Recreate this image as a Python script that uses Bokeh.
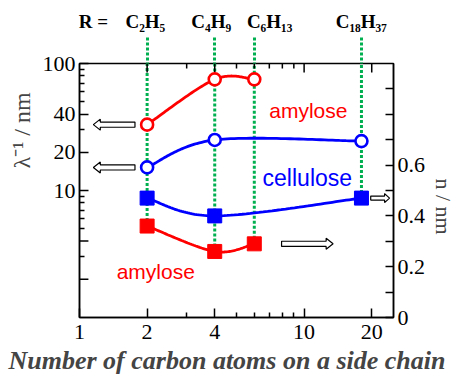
import numpy as np
from bokeh.plotting import figure
from bokeh.models import (Range1d, LinearScale, LinearAxis, LogAxis, FixedTicker,
                          Label, Arrow, NumeralTickFormatter, Title)
from bokeh.embed import file_html
from bokeh.resources import INLINE

# ---------------- data ----------------
side_chains = ["C₂H₅", "C₄H₉", "C₆H₁₃", "C₁₈H₃₇"]
carbon_number = [2, 4, 6, 18]

amylose_x = [2, 4, 6]
amylose_inv_lambda = [33.0, 75.0, 75.0]     # lambda^-1 / nm  (left, log axis)
amylose_n = [0.36, 0.26, 0.29]              # n / nm (right axis)

cellulose_x = [2, 4, 18]
cellulose_inv_lambda = [15.2, 25.0, 24.5]
cellulose_n = [0.47, 0.40, 0.47]

x_major = [1, 2, 4, 10, 20]
x_minor = [3, 5, 6, 7, 8, 9]
left_major = [10, 20, 40, 100]
left_long = [2, 4]
left_minor = [3, 5, 6, 7, 8, 9, 30, 50, 60, 70, 80, 90]
right_major = [0, 0.2, 0.4, 0.6]
right_minor = [0.1, 0.3, 0.5, 0.7, 0.8, 0.9]

X_RANGE = (1, 25)
LEFT_RANGE = (1, 100)
RIGHT_RANGE = (0, 1.0)

# ---------------- layout (canvas px) ----------------
W, H = 459, 381
FL, FR, FT, FB = 79, 396, 63, 317

LX = np.log10(X_RANGE[1] / X_RANGE[0])
LY = np.log10(LEFT_RANGE[1] / LEFT_RANGE[0])
PX_X = (FR - FL) / LX
PX_L = (FB - FT) / LY
PX_R = (FB - FT) / (RIGHT_RANGE[1] - RIGHT_RANGE[0])


def dx(cx):
    return X_RANGE[0] * 10 ** ((cx - FL) / PX_X)


def dyl(cy):
    return LEFT_RANGE[0] * 10 ** ((FB - cy) / PX_L)


def dyr(cy):
    return RIGHT_RANGE[0] + (FB - cy) / PX_R


def cx_of(x):
    return FL + np.log10(x / X_RANGE[0]) * PX_X


def cyl_of(v):
    return FB - np.log10(v / LEFT_RANGE[0]) * PX_L


def cyr_of(v):
    return FB - (v - RIGHT_RANGE[0]) * PX_R


def smooth(xs, ys, log_y):
    """Catmull-Rom curve through the data points (computed in pixel space)."""
    u = np.array([cx_of(x) for x in xs])
    v = np.array([cyl_of(y) if log_y else cyr_of(y) for y in ys])
    P = np.column_stack([u, v])
    n = len(P)
    T = np.array([(P[min(i + 1, n - 1)] - P[max(i - 1, 0)]) / 2 for i in range(n)])
    out = []
    t = np.linspace(0, 1, 40)[:, None]
    h00 = 2 * t**3 - 3 * t**2 + 1
    h10 = t**3 - 2 * t**2 + t
    h01 = -2 * t**3 + 3 * t**2
    h11 = t**3 - t**2
    for i in range(n - 1):
        out.append(h00 * P[i] + h10 * T[i] + h01 * P[i + 1] + h11 * T[i + 1])
    S = np.vstack(out)
    xs_d = [dx(a) for a in S[:, 0]]
    ys_d = [dyl(b) if log_y else dyr(b) for b in S[:, 1]]
    return xs_d, ys_d


p = figure(width=W, height=H, x_axis_type="log", y_axis_type="log",
           x_range=Range1d(*X_RANGE), y_range=Range1d(*LEFT_RANGE),
           output_backend="svg", toolbar_location=None,
           min_border_left=FL, min_border_right=W - FR,
           min_border_top=FT, min_border_bottom=H - FB)
p.extra_y_ranges = {"n": Range1d(*RIGHT_RANGE)}
p.extra_y_scales = {"n": LinearScale()}
p.grid.visible = False
p.background_fill_color = "white"
p.border_fill_color = "white"
p.outline_line_color = "black"
p.outline_line_width = 1.5

SERIF = "Liberation Serif"
SANS = "Liberation Sans"
GREEN = "#00B050"
RED, BLUE = "#FF0000", "#0000FF"


def style_axis(ax, tick_len=9, minor_len=5):
    ax.axis_line_width = 1.5
    ax.axis_line_color = "black"
    ax.major_tick_in = tick_len
    ax.major_tick_out = 0
    ax.minor_tick_in = minor_len
    ax.minor_tick_out = 0
    ax.major_tick_line_width = 1.5
    ax.minor_tick_line_width = 1.5
    ax.major_label_text_font = SERIF
    ax.major_label_text_font_size = "22px"
    ax.major_label_text_color = "black"


xa = p.xaxis[0]
xa.ticker = FixedTicker(ticks=x_major, minor_ticks=x_minor)
xa.formatter = NumeralTickFormatter(format="0")
style_axis(xa)
xa.major_label_standoff = 7

ya = p.yaxis[0]
ya.ticker = FixedTicker(ticks=left_major, minor_ticks=left_minor)
ya.formatter = NumeralTickFormatter(format="0")
style_axis(ya)
ya.major_label_standoff = 4

ra = LinearAxis(y_range_name="n",
                ticker=FixedTicker(ticks=right_major, minor_ticks=right_minor),
                formatter=NumeralTickFormatter(format="0.0"))
ra.major_label_overrides = {0: "0"}
style_axis(ra, tick_len=8, minor_len=8)
ra.major_label_standoff = 4
p.add_layout(ra, "right")

# long unlabeled ticks on the left edge (2 and 4)
p.segment(x0=[X_RANGE[0]] * len(left_long), y0=left_long,
          x1=[dx(FL + 9)] * len(left_long), y1=left_long,
          line_color="black", line_width=1.5)

# top frame ticks (inward), drawn as short segments from the top edge
top_len = {**{t: 9 for t in x_major}, **{t: 5 for t in x_minor}}
tx = [t for t in top_len if X_RANGE[0] < t < X_RANGE[1]]
p.segment(x0=tx, y0=[LEFT_RANGE[1]] * len(tx), x1=tx,
          y1=[dyl(FT + top_len[t]) for t in tx], line_color="black", line_width=1.5)

# top row: labels (R = , side chains) as major labels, green guide lines as minor ticks
label_px = [93, 145.5, 212, 271, 363.5]
label_txt = ["R ="] + side_chains
label_pos = [dx(c) for c in label_px]
lab_axis = LogAxis(ticker=FixedTicker(ticks=label_pos, minor_ticks=carbon_number))
lab_axis.major_label_overrides = {pos: txt for pos, txt in zip(label_pos, label_txt)}
lab_axis.axis_line_color = None
lab_axis.major_tick_line_color = None
lab_axis.major_tick_in = 0
lab_axis.major_tick_out = 0
lab_axis.minor_tick_in = 0
lab_axis.minor_tick_out = 26
lab_axis.minor_tick_line_color = GREEN
lab_axis.minor_tick_line_width = 3
lab_axis.minor_tick_line_dash = "3 2"
lab_axis.major_label_text_font = SERIF
lab_axis.major_label_text_font_size = "19px"
lab_axis.major_label_text_font_style = "bold"
lab_axis.major_label_text_color = "black"
lab_axis.major_label_standoff = 6
p.add_layout(lab_axis, "above")

# green dotted guide lines inside the frame
lowest = {}
for xs, ys in [(amylose_x, amylose_n), (cellulose_x, cellulose_n)]:
    for x, y in zip(xs, ys):
        lowest[x] = min(lowest.get(x, np.inf), y)
for x in carbon_number:
    g = Arrow(end=None, x_start=x, y_start=lowest[x], x_end=x, y_end=RIGHT_RANGE[1],
              y_range_name="n", line_color=GREEN, line_width=3, line_dash="3 2")
    g.level = "underlay"
    p.add_layout(g)

# ---------------- curves + markers ----------------
for xs, ys, col in [(amylose_x, amylose_inv_lambda, RED), (cellulose_x, cellulose_inv_lambda, BLUE)]:
    sx, sy = smooth(xs, ys, True)
    p.line(sx, sy, line_color=col, line_width=2.8)
for xs, ys, col in [(amylose_x, amylose_n, RED), (cellulose_x, cellulose_n, BLUE)]:
    sx, sy = smooth(xs, ys, False)
    p.line(sx, sy, line_color=col, line_width=2.8, y_range_name="n")

for xs, ys, col in [(amylose_x, amylose_inv_lambda, RED), (cellulose_x, cellulose_inv_lambda, BLUE)]:
    p.scatter(xs, ys, marker="circle", size=12, fill_color="white", line_color=col, line_width=2.6)
for xs, ys, col in [(amylose_x, amylose_n, RED), (cellulose_x, cellulose_n, BLUE)]:
    p.scatter(xs, ys, marker="square", size=14, fill_color=col, line_color=col, y_range_name="n")


# ---------------- hollow arrows ----------------
def hollow_arrow(tail, tip, yval, right_axis, sh=2.6, hh=5.5, hl=7):
    cy = cyr_of(yval) if right_axis else cyl_of(yval)
    d = 1 if tip > tail else -1
    base = tip - d * hl
    px = [tail, base, base, tip, base, base, tail]
    py = [cy - sh, cy - sh, cy - hh, cy, cy + hh, cy + sh, cy + sh]
    xs = [dx(a) for a in px]
    if right_axis:
        ys = [dyr(b) for b in py]
        p.patch(xs, ys, fill_color="white", line_color="black", line_width=1.2, y_range_name="n")
    else:
        ys = [dyl(b) for b in py]
        p.patch(xs, ys, fill_color="white", line_color="black", line_width=1.2)


hollow_arrow(135, 93, amylose_inv_lambda[0], False)
hollow_arrow(135, 93, cellulose_inv_lambda[0], False)
hollow_arrow(373, 392, cellulose_n[-1], True, sh=2.0, hh=4.5, hl=5)
hollow_arrow(283, 335, amylose_n[-1], True)


# ---------------- texts in the frame ----------------
def label(x, y, text, size, font=SANS, color="black"):
    p.add_layout(Label(x=x, y=y, text=text, text_font=font, text_font_size=size,
                       text_color=color, text_align="center", text_baseline="middle"))


label(dx(310), dyl(110), "amylose", "21px", color=RED)
label(dx(309), dyl(177), "cellulose", "23px", color=BLUE)
label(dx(156), dyl(271), "amylose", "21px", color=RED)

# ---------------- axis titles ----------------
p.add_layout(Title(text="λ⁻¹ / nm", text_font=SERIF, text_font_size="24px",
                   text_font_style="normal", align="left", offset=149, standoff=9), "left")
p.add_layout(Title(text="n / nm", text_font=SERIF, text_font_size="22px",
                   text_font_style="normal", align="left", offset=115, standoff=4), "right")
p.add_layout(Title(text="Number of carbon atoms on a side chain", text_font=SERIF,
                   text_font_size="26px", text_font_style="bold italic",
                   align="left", offset=-71, standoff=4), "below")

open("out.html", "w").write(file_html(p, INLINE))
